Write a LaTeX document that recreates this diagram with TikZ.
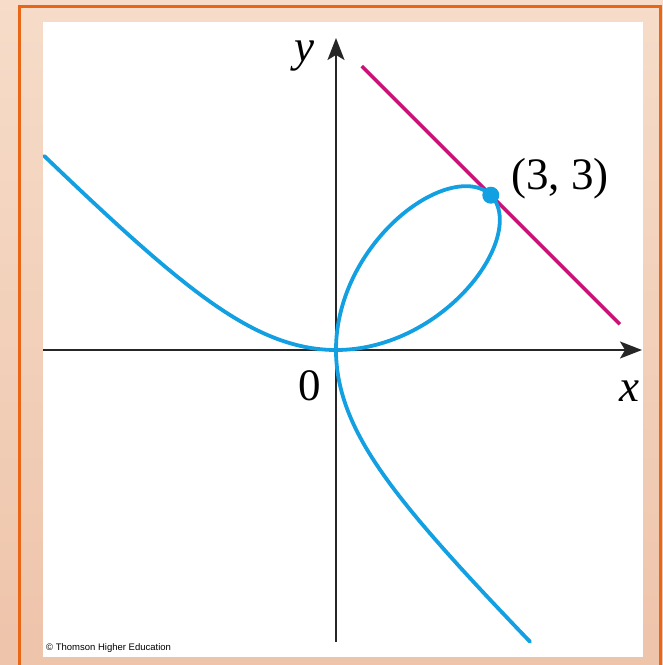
\documentclass[tikz,border=0pt]{standalone}
\usepackage{fontspec}
\setmainfont{Liberation Serif}
\newfontfamily\arialfont{Liberation Sans}
\usetikzlibrary{arrows.meta}
\definecolor{peachtop}{RGB}{246,220,201}
\definecolor{peachbot}{RGB}{238,196,170}
\definecolor{frameorange}{RGB}{232,102,22}
\definecolor{curveblue}{RGB}{18,160,226}
\definecolor{tangentmag}{RGB}{204,16,120}
\tikzset{
  axisline/.style={line width=2pt, draw=black!85, -{Stealth[length=22pt,width=17pt,inset=5pt]}},
  plainaxis/.style={line width=2pt, draw=black!85},
  curvestyle/.style={line width=3.8pt, draw=curveblue, line cap=round},
  tangentstyle/.style={line width=3.4pt, draw=tangentmag},
  biglabel/.style={font=\fontsize{45}{54}\selectfont, anchor=base, inner sep=0pt},
}
\begin{document}
\begin{tikzpicture}[x=1pt,y=1pt]
\useasboundingbox (0,0) rectangle (663,665);
% background
\shade[top color=peachtop, bottom color=peachbot] (0,0) rectangle (663,665);
\draw[frameorange, line width=2.6pt] (19.5,-5) -- (19.5,658.5) -- (660.5,658.5) -- (660.5,-5);
\fill[white] (43,8) rectangle (643,643);
% coordinates
\coordinate (O) at (336,315);
\coordinate (xs) at (43,315);
\coordinate (xe) at (642,315);
\coordinate (ys) at (336,23);
\coordinate (ye) at (336,627);
% axes
\draw[axisline] (xs) -- (xe);
\draw[axisline] (ys) -- (ye);
\begin{scope}[shift={(336,315)}, x=51.6pt, y=51.6pt]
  \coordinate (ta) at (0.5,5.5);
  \coordinate (tb) at (5.5,0.5);
  \draw[tangentstyle] (ta) -- (tb);
  \draw[curvestyle] plot[domain=-0.665:1, samples=240, smooth, variable=\t]
     ({6*\t/(1+\t*\t*\t)}, {6*\t*\t/(1+\t*\t*\t)});
  \draw[curvestyle] plot[domain=-0.665:1, samples=240, smooth, variable=\t]
     ({6*\t*\t/(1+\t*\t*\t)}, {6*\t/(1+\t*\t*\t)});
  \coordinate (P) at (3,3);
  \fill[curveblue] (P) circle[radius=8.5pt];
\end{scope}
% labels
\node[biglabel] (ylab) at (304,603) {\itshape y};
\node[biglabel] (xlab) at (629,263) {\itshape x};
\node[biglabel] (zlab) at (309.5,264) {0};
\node[biglabel] (plab) at (560,475) {(3, 3)};
\node[anchor=base west, inner sep=0pt, font=\arialfont\fontsize{9.5}{11}\selectfont] (copy) at (46,14) {© Thomson Higher Education};
\end{tikzpicture}
\end{document}
